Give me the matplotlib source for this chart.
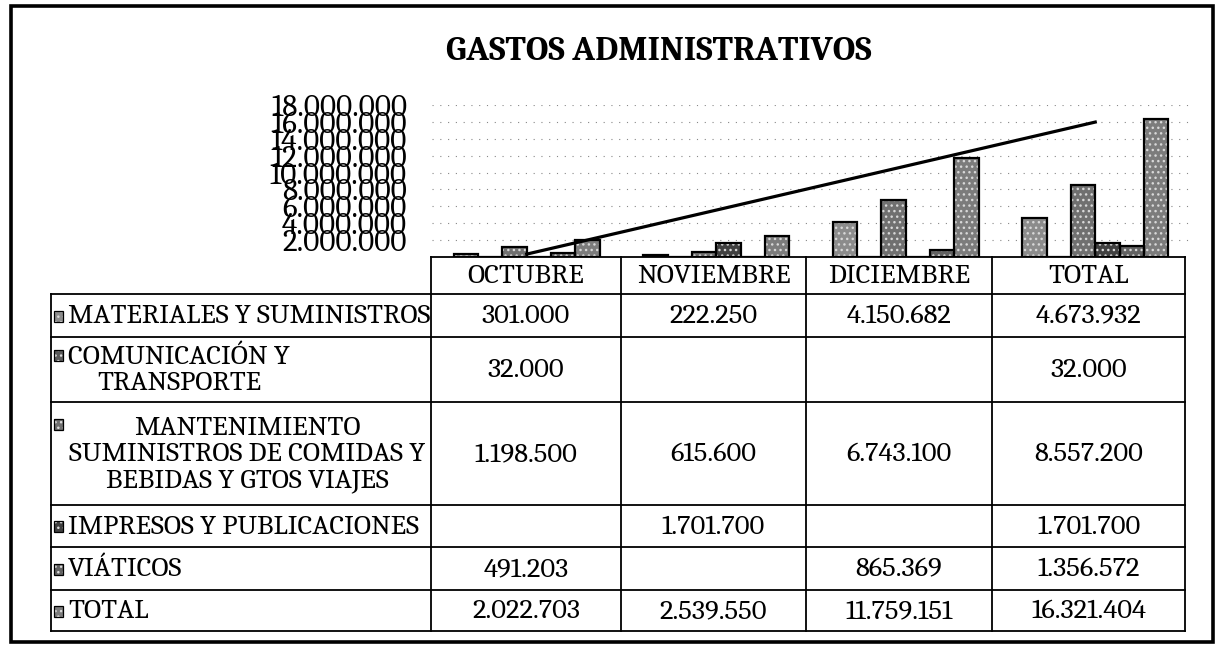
import matplotlib
matplotlib.use("Agg")
import matplotlib.pyplot as plt
from matplotlib.patches import Rectangle
import numpy as np

# data
months = ["OCTUBRE", "NOVIEMBRE", "DICIEMBRE", "TOTAL"]
series_names = [
    "MATERIALES Y SUMINISTROS",
    "COMUNICACIÓN Y\nTRANSPORTE",
    "MANTENIMIENTO\nSUMINISTROS DE COMIDAS Y\nBEBIDAS Y GTOS VIAJES",
    "IMPRESOS Y PUBLICACIONES",
    "VIÁTICOS",
    "TOTAL",
]
materiales = [301000, 222250, 4150682, 4673932]
comunicacion = [32000, None, None, 32000]
mantenimiento = [1198500, 615600, 6743100, 8557200]
impresos = [None, 1701700, None, 1701700]
viaticos = [491203, None, 865369, 1356572]
total = [2022703, 2539550, 11759151, 16321404]
yticks = [2000000, 4000000, 6000000, 8000000, 10000000,
          12000000, 14000000, 16000000, 18000000]

series = [materiales, comunicacion, mantenimiento, impresos, viaticos, total]
colors = ["#8c8c8c", "#5a5a5a", "#707070", "#404040", "#626262", "#7c7c7c"]

def fmt(v):
    if v is None:
        return ""
    return f"{v:,.0f}".replace(",", ".")

W, H = 1219, 645
fig = plt.figure(figsize=(W / 100, H / 100), dpi=100)

# background axes in pixel coords for frame, title and table
bg = fig.add_axes([0, 0, 1, 1])
bg.set_xlim(0, W)
bg.set_ylim(H, 0)
bg.axis("off")

serif = "Caladea"

# outer frame
bg.add_patch(Rectangle((11, 6), 1202, 636, fill=False, ec="black", lw=2.6))

# title
bg.text(659, 51, "GASTOS ADMINISTRATIVOS", family=serif, weight="bold",
        fontsize=25, ha="center", va="center")

# chart
left, right, top, bottom = 432, 1190, 105, 257
ax = fig.add_axes([left / W, 1 - bottom / H, (right - left) / W, (bottom - top) / H])
ax.patch.set_alpha(0)

x = np.arange(len(months))
bw = 0.128
for i, (vals, c) in enumerate(zip(series, colors)):
    v = [0 if s is None else s for s in vals]
    ax.bar(x + (i - 2.5) * bw, v, bw, color=c, hatch="...",
           edgecolor="#d8d8d8", linewidth=0, zorder=2)
    ax.bar(x + (i - 2.5) * bw, v, bw, fill=False, edgecolor="black",
           linewidth=1.6, zorder=3)

# linear trendline of the total series
m, b = np.polyfit(x, total, 1)
ax.plot(x, m * x + b, color="black", linewidth=2.3, zorder=4)

ax.set_xlim(-0.5, 3.5)
ax.set_ylim(0, 18000000)
ax.set_yticks(yticks)
ax.set_yticklabels([fmt(t) for t in yticks], family=serif, fontsize=22.5)
ax.tick_params(axis="y", length=0, pad=18)
ax.set_xticks([])
ax.grid(True, axis="y", color="#888888", linestyle=(0, (1, 6)), linewidth=0.8, zorder=0)
for s in ax.spines.values():
    s.set_visible(False)

# data table
col_x = [51, 431, 621, 806, 992, 1185]
row_y = [257, 294, 337, 402, 505, 547, 590, 631]
lw = 1.3

bg.plot([col_x[1], col_x[-1]], [row_y[0], row_y[0]], color="black", lw=lw)
for yy in row_y[1:]:
    bg.plot([col_x[0], col_x[-1]], [yy, yy], color="black", lw=lw)
bg.plot([col_x[0], col_x[0]], [row_y[1], row_y[-1]], color="black", lw=lw)
for xx in col_x[1:]:
    bg.plot([xx, xx], [row_y[0], row_y[-1]], color="black", lw=lw)

fs = 20.5
for j, mname in enumerate(months):
    cx = (col_x[j + 1] + col_x[j + 2]) / 2
    bg.text(cx, (row_y[0] + row_y[1]) / 2 + 1, mname, family=serif, fontsize=fs,
            ha="center", va="center")

for i, (name, vals, c) in enumerate(zip(series_names, series, colors)):
    y0, y1 = row_y[i + 1], row_y[i + 2]
    cy = (y0 + y1) / 2 + 1
    nlines = name.count("\n") + 1
    first_y = cy - (nlines - 1) * 15
    bg.add_patch(Rectangle((54, first_y - 6), 9, 11, facecolor=c, hatch="...",
                           edgecolor="#d8d8d8", lw=0))
    bg.add_patch(Rectangle((54, first_y - 6), 9, 11, fill=False, edgecolor="black", lw=0.9))
    if nlines == 3:
        bg.text((col_x[0] + col_x[1]) / 2 + 6, cy, name, family=serif, fontsize=fs,
                ha="center", va="center", multialignment="center", linespacing=1.05)
    else:
        bg.text(68, cy, name, family=serif, fontsize=fs, ha="left", va="center",
                multialignment="center", linespacing=1.05)
    for j, v in enumerate(vals):
        cx = (col_x[j + 1] + col_x[j + 2]) / 2
        bg.text(cx, cy, fmt(v), family=serif, fontsize=fs, ha="center", va="center")

fig.savefig("out.png", dpi=100)
